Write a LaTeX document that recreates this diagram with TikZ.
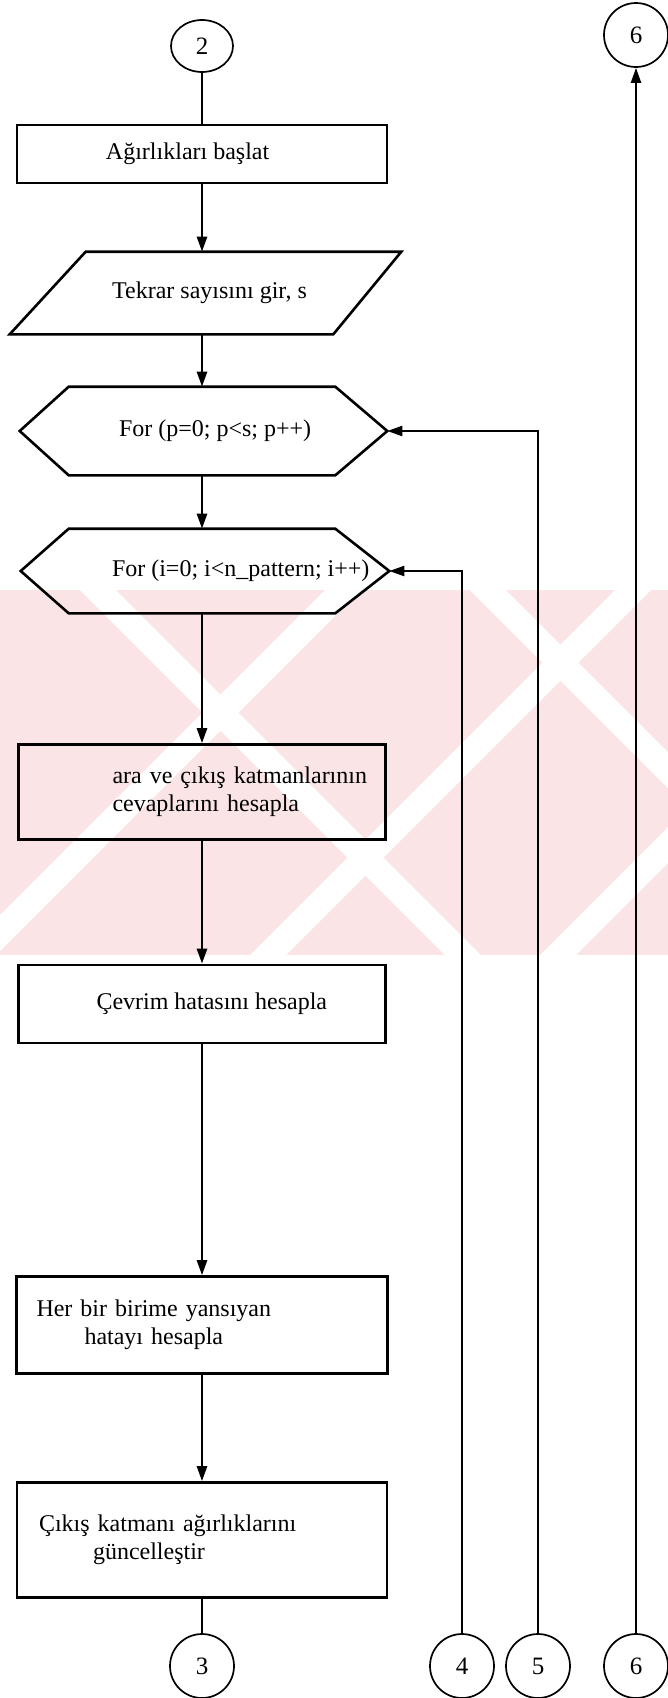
\documentclass[tikz,border=0pt]{standalone}
\usepackage{fontspec}
\setmainfont{Liberation Serif}
\usetikzlibrary{arrows.meta,calc,shapes.geometric}
\definecolor{wm}{RGB}{251,228,230}
\begin{document}
\begin{tikzpicture}[x=1pt,y=-1pt,
  line width=2.6pt,
  txt/.style={font=\fontsize{24}{28}\selectfont},
  box/.style={draw, rectangle, inner sep=0pt, align=left, txt},
  body/.style={rectangle, inner sep=0pt, txt},
  conn/.style={draw, ellipse, inner sep=0pt, line width=1.7pt,
    minimum width=64pt, minimum height=64pt, font=\fontsize{25}{30}\selectfont},
  flow/.style={-{Triangle[length=15pt,width=10pt]}},
  loop/.style={flow, line width=2.2pt},
]
\useasboundingbox (0,0) rectangle (668,1698);

% faint background stamp
\begin{scope}
  \clip (0,590) rectangle (668,955);
  \fill[wm] (0,590) rectangle (668,955);
  \foreach \x in {-40,250,540}
    \fill[white] (\x,955) -- ++(36,0) -- ++(365,-365) -- ++(-36,0) -- cycle;
  \foreach \x in {80,470}
    \fill[white] (\x,590) -- ++(36,0) -- ++(365,365) -- ++(-36,0) -- cycle;
\end{scope}

% connector circles
\node[conn, minimum width=62pt, minimum height=52pt] (c2) at (202,46) {2};
\node[conn] (c6t) at (636,35) {6};
\node[conn] (c3) at (202,1666) {3};
\node[conn] (c4) at (462,1666) {4};
\node[conn] (c5) at (538,1666) {5};
\node[conn] (c6b) at (636,1666) {6};

% process boxes
\node[box, minimum width=370pt, minimum height=58pt] (r1) at (202,154)
  {\makebox[370pt][l]{\hspace*{89pt}Ağırlıkları başlat}};

% input parallelogram
\node[body, minimum width=245pt, minimum height=80pt] (para) at (209.5,293)
  {Tekrar sayısını gir, s};
\draw ($(para.north west)$) -- ($(para.north east)+(68,0)$)
  -- (para.south east) -- ($(para.south west)+(-76,0)$) -- cycle;

% loop headers
\node[body, minimum width=264pt, minimum height=86pt] (h1) at (202,431)
  {\makebox[264pt][l]{\hspace*{49pt}For (p=0; p<s; p++)}};
\coordinate (h1e) at ($(h1.east)+(52,0)$);
\coordinate (h1w) at ($(h1.west)+(-49,0)$);
\draw (h1.north west) -- (h1.north east) -- (h1e) -- (h1.south east)
  -- (h1.south west) -- (h1w) -- cycle;

\node[body, minimum width=264pt, minimum height=82pt] (h2) at (202,571)
  {\makebox[264pt][l]{\hspace*{42pt}For (i=0; i<n\_pattern; i++)}};
\coordinate (h2e) at ($(h2.east)+(54,0)$);
\coordinate (h2w) at ($(h2.west)+(-48,0)$);
\draw (h2.north west) -- (h2.north east) -- (h2e) -- (h2.south east)
  -- (h2.south west) -- (h2w) -- cycle;

\node[box, text width=367pt, minimum height=95pt] (r3) at (202,792)
  {\hspace*{94pt}ara ve çıkış katmanlarının\\\hspace*{94pt}cevaplarını hesapla};
\node[box, minimum width=367pt, minimum height=78pt] (r4) at (202,1004)
  {\makebox[367pt][l]{\hspace*{78pt}Çevrim hatasını hesapla}};
\node[box, text width=371pt, minimum height=97pt] (r5) at (202,1325)
  {\hspace*{20pt}Her bir birime yansıyan\\\hspace*{68pt}hatayı hesapla};
\node[box, text width=370pt, minimum height=115pt] (r6) at (202,1540)
  {\hspace*{22pt}Çıkış katmanı ağırlıklarını\\\hspace*{76pt}güncelleştir};

% main flow
\draw (c2) -- (r1);
\draw[flow] (r1.south) -- (r1.south |- para.north);
\draw[flow] (r1.south |- para.south) -- (h1.north);
\draw[flow] (h1.south) -- (h2.north);
\draw[flow] (h2.south) -- (r3.north);
\draw[flow] (r3.south) -- (r4.north);
\draw[flow] (r4.south) -- (r5.north);
\draw[flow] (r5.south) -- (r6.north);
\draw (r6.south) -- (c3.north);

% loop returns and off-page link
\draw[loop] (c4.north) |- (h2e);
\draw[loop] (c5.north) |- (h1e);
\draw[loop] (c6b.north) -- (c6t.south);
\end{tikzpicture}
\end{document}
